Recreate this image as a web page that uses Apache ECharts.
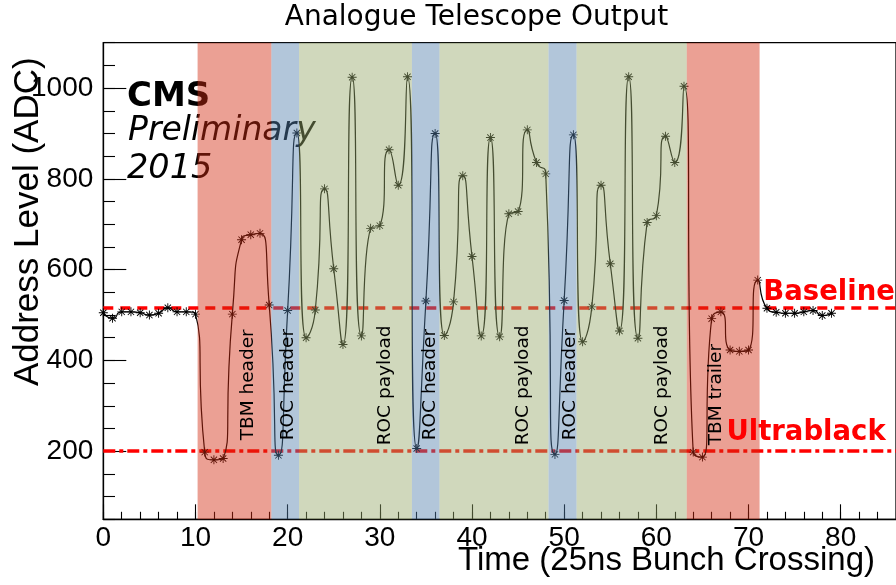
<!DOCTYPE html>
<html><head><meta charset="utf-8">
<script src="https://cdn.jsdelivr.net/npm/echarts@6/dist/echarts.min.js"></script>
<style>html,body{margin:0;padding:0;background:#fff}#c{width:896px;height:585px}</style>
</head><body><div id="c"></div>
<script>
// ---------- data ----------
const timeBX = [0,1,2,3,4,5,6,7,8,9,10,11,12,13,14,15,16,17,18,19,20,21,22,23,24,25,26,27,28,29,30,31,32,33,34,35,36,37,38,39,40,41,42,43,44,45,46,47,48,49,50,51,52,53,54,55,56,57,58,59,60,61,62,63,64,65,66,67,68,69,70,71,72,73,74,75,76,77,78,79];
const adc = [505,493,507,507,505,500,504,516,507,507,
             502,198,181,184,502,666,677,680,522,191,
             510,901,450,511,778,602,435,1024,454,691,
             697,864,786,1025,206,531,900,455,529,807,
             629,454,891,452,723,728,908,836,811,193,
             532,897,441,518,786,613,465,1025,449,704,
             719,894,836,1004,198,187,492,507,423,420,
             423,577,515,506,504,504,507,510,499,504];
const bandNames = ['TBM header','ROC header','ROC payload','ROC header','ROC payload','ROC header','ROC payload','TBM trailer'];
const bandStart = [10.23,18.24,21.24,33.48,36.48,48.3,51.35,63.3];
const bandEnd   = [18.24,21.24,33.48,36.48,48.3,51.35,63.3,71.2];
const bandKind  = ['tbm','roc','pay','roc','pay','roc','pay','tbm'];
const labelX = [15.75,20.03,30.55,35.5,45.5,50.6,60.6,66.5];
const labelY = [224,224,213,224,213,224,213,213];
const baselineLevel = 515;
const ultrablackLevel = 200;
const xMajor = [0,10,20,30,40,50,60,70,80];
const yMajor = [200,400,600,800,1000];

// ---------- style ----------
const SANS = "'Liberation Sans', Arial, Helvetica, sans-serif";
const DV = "'DejaVu Sans', sans-serif";
const bandColor = {tbm:'rgb(211,44,17)', roc:'rgb(84,128,173)', pay:'rgb(151,168,106)'};
const starPath = 'path://M0 9L20 9L20 11L0 11Z M9 0L11 0L11 20L9 20Z M2.3 3.7L3.7 2.3L17.7 16.3L16.3 17.7Z M16.3 2.3L17.7 3.7L3.7 17.7L2.3 16.3Z';

const chart = echarts.init(document.getElementById('c'), null, {renderer:'canvas'});
const pts = timeBX.map((t,i)=>[t, adc[i]]);

const axisCommon = {type:'value', min:0, max:86, splitLine:{show:false}};
chart.setOption({
  animation:false,
  backgroundColor:'#fff',
  grid:{left:103.3, right:0, top:42.7, bottom:65.7, show:true, borderColor:'#000', borderWidth:1.3, backgroundColor:'transparent'},
  xAxis:[
    Object.assign({}, axisCommon, {
      axisLine:{show:true, onZero:false, lineStyle:{color:'#000', width:1.3}},
      axisTick:{show:true, inside:true, length:15, customValues:xMajor, lineStyle:{color:'#000', width:1.1}},
      axisLabel:{show:true, customValues:xMajor, margin:5, color:'#000', fontFamily:SANS, fontSize:28, formatter:v=>String(v)}
    }),
    Object.assign({}, axisCommon, {
      interval:2, position:'bottom',
      axisLine:{show:false}, axisLabel:{show:false},
      axisTick:{show:true, inside:true, length:7.5, lineStyle:{color:'#000', width:1.1}}
    })
  ],
  yAxis:[
    {type:'value', min:50, max:1100, splitLine:{show:false},
      axisLine:{show:true, onZero:false, lineStyle:{color:'#000', width:1.3}},
      axisTick:{show:true, inside:true, length:23, customValues:yMajor, lineStyle:{color:'#000', width:1.1}},
      axisLabel:{show:true, customValues:yMajor, margin:10, color:'#000', fontFamily:SANS, fontSize:28, formatter:v=>String(v)}
    },
    {type:'value', min:50, max:1100, interval:50, position:'left', splitLine:{show:false},
      axisLine:{show:false}, axisLabel:{show:false},
      axisTick:{show:true, inside:true, length:11.7, lineStyle:{color:'#000', width:1.1}}
    }
  ],
  series:[
    { // reference levels (under bands)
      type:'line', data:[], z:2, silent:true,
      markLine:{silent:true, z:2, symbol:['none','none'], label:{show:false}, animation:false,
        data:[
          {yAxis:baselineLevel, lineStyle:{color:'#ff0000', width:3.5, type:[10,7]}},
          {yAxis:ultrablackLevel, lineStyle:{color:'#ff0000', width:3.5, type:[12,4,4,4]}}
        ]}
    },
    { // readout
      type:'line', data:pts, z:3, smooth:0.75, silent:true,
      symbol:starPath, symbolSize:9,
      lineStyle:{color:'#000', width:1.2},
      itemStyle:{color:'#000'}
    },
    { // bands (semi-transparent overlay on top of the readout)
      type:'line', data:[], z:10, silent:true,
      markArea:{silent:true, z:10, label:{show:false},
        data: bandStart.map((s,i)=>[
          {xAxis:s, itemStyle:{color:bandColor[bandKind[i]], opacity:0.45, borderWidth:0}},
          {xAxis:bandEnd[i]}
        ])}
    }
  ]
});

// ---------- text annotations ----------
const g = [];
g.push({type:'text', z:20, x:476.5, y:17.5, style:{text:'Analogue Telescope Output', fontFamily:DV, fontSize:28, fill:'#000', align:'center', verticalAlign:'middle'}});
g.push({type:'text', z:20, x:28, y:221.7, rotation:Math.PI/2, style:{text:'Address Level (ADC)', fontFamily:SANS, fontSize:35, fill:'#000', align:'center', verticalAlign:'middle'}});
g.push({type:'text', z:20, x:875, y:561, style:{text:'Time (25ns Bunch Crossing)', fontFamily:SANS, fontSize:33, fill:'#000', align:'right', verticalAlign:'middle'}});
// CMS preliminary (under the band overlay)
g.push({type:'text', z:1, x:127, y:96.7, style:{text:'CMS', fontFamily:DV, fontWeight:'bold', fontSize:34, fill:'#000', align:'left', verticalAlign:'middle'}});
g.push({type:'text', z:1, x:128, y:131.3, style:{text:'Preliminary', fontFamily:DV, fontStyle:'italic', fontSize:33, fill:'#000', align:'left', verticalAlign:'middle'}});
g.push({type:'text', z:1, x:127, y:169.2, style:{text:'2015', fontFamily:DV, fontStyle:'italic', fontSize:33.5, fill:'#000', align:'left', verticalAlign:'middle'}});
// level labels
const pB = chart.convertToPixel({xAxisIndex:0, yAxisIndex:0}, [71.6, baselineLevel]);
const pU = chart.convertToPixel({xAxisIndex:0, yAxisIndex:0}, [67.6, ultrablackLevel]);
g.push({type:'text', z:20, x:pB[0], y:pB[1]-15.5, style:{text:'Baseline', fontFamily:DV, fontWeight:'bold', fontSize:27.5, fill:'#ff0000', align:'left', verticalAlign:'middle'}});
g.push({type:'text', z:20, x:pU[0], y:pU[1]-18, style:{text:'Ultrablack', fontFamily:DV, fontWeight:'bold', fontSize:27.5, fill:'#ff0000', align:'left', verticalAlign:'middle'}});
// band labels
bandNames.forEach((name,i)=>{
  const p = chart.convertToPixel({xAxisIndex:0, yAxisIndex:0}, [labelX[i], labelY[i]]);
  g.push({type:'text', z:20, x:p[0], y:p[1], rotation:Math.PI/2, style:{text:name, fontFamily:DV, fontSize:18.5, fill:'#000', align:'left', verticalAlign:'middle'}});
});
chart.setOption({graphic:g});
</script>
</body></html>
